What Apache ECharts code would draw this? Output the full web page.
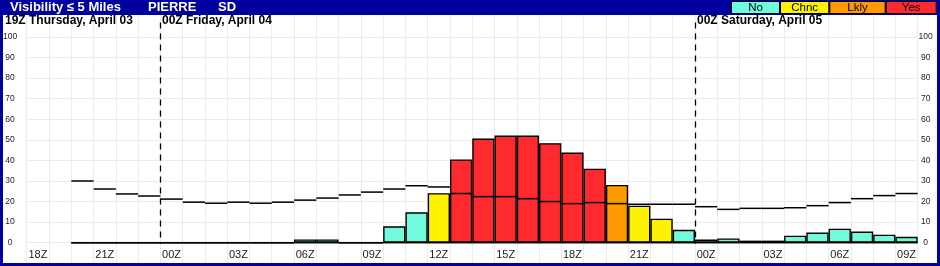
<!DOCTYPE html>
<html><head><meta charset="utf-8">
<script src="https://cdn.jsdelivr.net/npm/echarts@6/dist/echarts.min.js"></script>
<style>html,body{margin:0;padding:0;background:#fff}#c{width:940px;height:266px}</style>
</head><body><div id="c"></div>
<script>
// hourly slots, 18Z Apr 03 .. 09Z Apr 05
const hours = ['18Z','19Z','20Z','21Z','22Z','23Z','00Z','01Z','02Z','03Z','04Z','05Z','06Z','07Z','08Z','09Z','10Z','11Z','12Z','13Z','14Z','15Z','16Z','17Z','18Z','19Z','20Z','21Z','22Z','23Z','00Z','01Z','02Z','03Z','04Z','05Z','06Z','07Z','08Z','09Z'];
// probability bars (%)
const barValues = [null,null,0,0,0,0,0,0,0,0,0,0,1.6,1.6,0,0,8,14.8,24.1,40.5,50.6,52.1,52.1,48.4,43.8,36,28.1,18,11.7,6.3,1.5,2.1,1,1,3.4,4.9,6.8,5.4,3.9,2.9];
// category of each bar
const barCats = [null,null,'No','No','No','No','No','No','No','No','No','No','No','No','No','No','No','No','Chnc','Yes','Yes','Yes','Yes','Yes','Yes','Yes','Lkly','Chnc','Chnc','No','No','No','No','No','No','No','No','No','No','No'];
// climatology step line (%)
const stepValues = [null,null,30,26.1,23.7,22.7,21.2,19.7,19.2,19.7,19.2,19.7,20.7,21.7,23.2,24.6,26.1,27.7,27.1,23.9,22.4,22.4,21.4,20,19,19.5,19,18.7,18.7,18.7,17.5,16.2,16.7,16.7,17,18,19.5,21.4,22.9,23.9];
const yTicks = [0,10,20,30,40,50,60,70,80,90,100];
const legendNames = ['No','Chnc','Lkly','Yes'];
const dayStartSlots = [6, 30];
const dayLabels = ['00Z Friday, April 04', '00Z Saturday, April 05'];
const firstLabel = '19Z Thursday, April 03';
const titleParts = ['Visibility ≤ 5 Miles', 'PIERRE', 'SD'];

const catColors = {No:'#72fadc', Chnc:'#fff200', Lkly:'#ff9900', Yes:'#ff2a2d'};
const FONT = '"Liberation Sans", Arial, sans-serif';
const BLUE = '#00009e';

const chart = echarts.init(document.getElementById('c'), null, {renderer:'canvas'});

const gridL = 26.7, gridR = 22.3;
const legendX = [731, 780, 829.3, 885.7, 936.7];

const graphics = [
  {type:'rect', shape:{x:0,y:0,width:940,height:15}, style:{fill:BLUE}, z:100},
  {type:'rect', shape:{x:0,y:0,width:3,height:266}, style:{fill:BLUE}, z:100},
  {type:'rect', shape:{x:937,y:0,width:3,height:266}, style:{fill:BLUE}, z:100},
  {type:'rect', shape:{x:0,y:263,width:940,height:3}, style:{fill:BLUE}, z:100},
  {type:'text', x:10, y:7, style:{text:titleParts[0], fill:'#fff', font:'bold 13px '+FONT, verticalAlign:'middle'}, z:101},
  {type:'text', x:148, y:7, style:{text:titleParts[1], fill:'#fff', font:'bold 13px '+FONT, verticalAlign:'middle'}, z:101},
  {type:'text', x:218, y:7, style:{text:titleParts[2], fill:'#fff', font:'bold 13px '+FONT, verticalAlign:'middle'}, z:101},
  {type:'text', x:5, y:21, style:{text:firstLabel, fill:'#000', font:'bold 12px '+FONT, verticalAlign:'middle'}, z:101}
];
legendNames.forEach((n,i)=>{
  graphics.push({type:'rect', shape:{x:legendX[i]+0.5, y:1.5, width:legendX[i+1]-legendX[i]-1, height:12}, style:{fill:catColors[n], stroke:'#000', lineWidth:1}, z:102});
  graphics.push({type:'text', x:(legendX[i]+legendX[i+1])/2, y:7.8, style:{text:n, fill:'#000', font:'11.5px '+FONT, align:'center', verticalAlign:'middle'}, z:103});
});

const labelStyle = {color:'#222', fontFamily:FONT};

chart.setOption({
  animation:false,
  backgroundColor:'#fff',
  grid:[
    {left:gridL, right:gridR, top:37, bottom:23.3},
    {left:gridL, right:gridR, top:15, bottom:3}
  ],
  xAxis:[
    {type:'category', gridIndex:0, data:hours, boundaryGap:true,
     axisLine:{show:false}, axisTick:{show:false}, splitLine:{show:false},
     axisLabel:Object.assign({interval:2, fontSize:11, margin:7}, labelStyle)},
    {type:'category', gridIndex:1, data:hours, boundaryGap:true,
     axisLine:{show:false}, axisTick:{show:false}, axisLabel:{show:false},
     splitLine:{show:true, interval:0, lineStyle:{color:'#ebebeb', width:1}}}
  ],
  yAxis:[
    {type:'value', gridIndex:0, min:yTicks[0], max:yTicks[yTicks.length-1], interval:10, position:'left',
     axisLine:{show:false}, axisTick:{show:false},
     splitLine:{show:true, lineStyle:{color:'#ebebeb', width:1}},
     axisLabel:Object.assign({fontSize:8.5, margin:16.7, align:'center'}, labelStyle)},
    {type:'value', gridIndex:0, min:yTicks[0], max:yTicks[yTicks.length-1], interval:10, position:'right',
     axisLine:{show:false}, axisTick:{show:false}, splitLine:{show:false},
     axisLabel:Object.assign({fontSize:8.5, margin:8, align:'center'}, labelStyle)},
    {type:'value', gridIndex:1, min:0, max:1, show:false, splitLine:{show:false}}
  ],
  graphic:graphics,
  series:[
    {type:'bar', xAxisIndex:0, yAxisIndex:0, barWidth:'100%', barGap:'-100%', z:3,
     data:barValues.map((v,i)=> v===null ? '-' : {value:v, itemStyle:{color:catColors[barCats[i]]}}),
     itemStyle:{borderColor:'#000', borderWidth:1.4}},
    {type:'custom', xAxisIndex:0, yAxisIndex:0, z:4,
     data:stepValues.map((v,i)=>[i,v]).filter(d=>d[1]!==null),
     encode:{x:0, y:1},
     renderItem:function(params, api){
       const c = api.coord([api.value(0), api.value(1)]);
       const w = api.size([1,0])[0];
       return {type:'line', shape:{x1:c[0]-w/2, y1:c[1], x2:c[0]+w/2, y2:c[1]}, style:{stroke:'#000', lineWidth:1.5}};
     }},
    {type:'custom', xAxisIndex:0, yAxisIndex:0, z:5,
     data:barValues.map((v,i)=>[i,v]).filter(d=>d[1]!==null),
     encode:{x:0, y:1},
     renderItem:function(params, api){
       const c = api.coord([api.value(0), 0]);
       const w = api.size([1,0])[0];
       return {type:'line', shape:{x1:c[0]-w/2, y1:c[1], x2:c[0]+w/2, y2:c[1]}, style:{stroke:'#000', lineWidth:1.5}};
     }},
    {type:'custom', xAxisIndex:0, yAxisIndex:0, z:6,
     data:dayStartSlots.map((s,i)=>[s, 0, i]),
     encode:{x:0, y:1},
     renderItem:function(params, api){
       const idx = api.value(0);
       const c0 = api.coord([idx, 0]);
       const ct = api.coord([idx, 107]);
       const w = api.size([1,0])[0];
       const x = Math.round(c0[0]-w/2) + 0.5;
       return {type:'group', children:[
         {type:'line', shape:{x1:x, y1:ct[1], x2:x, y2:c0[1]+1}, style:{stroke:'#000', lineWidth:1.3, lineDash:[6,5]}},
         {type:'text', x:x+1.5, y:21, style:{text:dayLabels[api.value(2)], fill:'#000', font:'bold 12px '+FONT, verticalAlign:'middle'}}
       ]};
     }}
  ]
});
</script>
</body></html>
